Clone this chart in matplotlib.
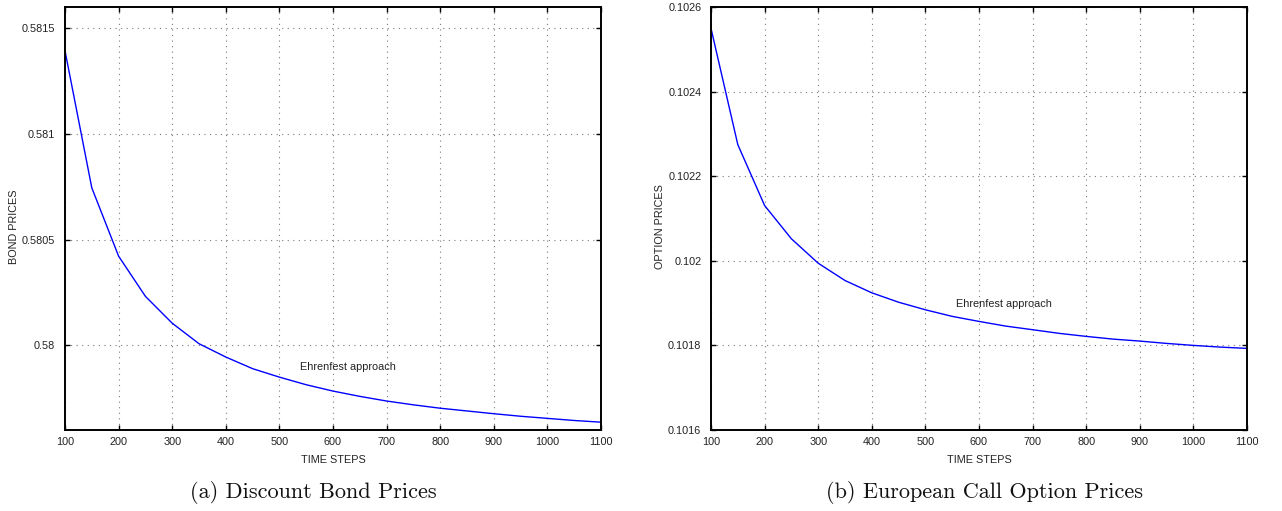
import matplotlib
matplotlib.use("Agg")
import matplotlib.pyplot as plt
from matplotlib.ticker import FuncFormatter

# ---- data ----
time_steps = [100, 150, 200, 250, 300, 350, 400, 450, 500, 550, 600,
              650, 700, 750, 800, 850, 900, 950, 1000, 1050, 1100]

bond_prices = [0.581393, 0.580745, 0.580422, 0.580232, 0.580105, 0.580008,
               0.579945, 0.579890, 0.579850, 0.579814, 0.579784, 0.579759,
               0.579737, 0.579719, 0.579703, 0.579690, 0.579677, 0.579665,
               0.579655, 0.579645, 0.579637]

option_prices = [0.1025496, 0.1022747, 0.1021307, 0.1020520, 0.1019943,
                 0.1019534, 0.1019243, 0.1019021, 0.1018842, 0.1018686,
                 0.1018567, 0.1018456, 0.1018371, 0.1018284, 0.1018213,
                 0.1018149, 0.1018102, 0.1018047, 0.1018000, 0.1017960,
                 0.1017929]

x_ticks = [100, 200, 300, 400, 500, 600, 700, 800, 900, 1000, 1100]
bond_yticks = [0.58, 0.5805, 0.581, 0.5815]
option_yticks = [0.1016, 0.1018, 0.102, 0.1022, 0.1024, 0.1026]

series_label = "Ehrenfest approach"
x_label = "TIME STEPS"
bond_ylabel = "BOND PRICES"
option_ylabel = "OPTION PRICES"
caption_a = "(a) Discount Bond Prices"
caption_b = "(b) European Call Option Prices"

# ---- figure ----
W, H = 1282, 511
fig = plt.figure(figsize=(W / 100, H / 100), dpi=100)
sans = ["Liberation Sans", "DejaVu Sans"]
fs = 7.8


def px_axes(x0, x1, ytop, ybot):
    return fig.add_axes([x0 / W, 1 - ybot / H, (x1 - x0) / W, (ybot - ytop) / H])


ax1 = px_axes(65, 601, 7, 430)
ax2 = px_axes(711, 1247, 7, 430)


def style(ax, yticks, ylim, ylabel):
    ax.set_xlim(100, 1100)
    ax.set_ylim(*ylim)
    ax.set_xticks(x_ticks)
    ax.set_yticks(yticks)
    ax.yaxis.set_major_formatter(FuncFormatter(lambda v, p: ("%.4f" % v).rstrip("0")))
    ax.grid(True, color="#7a7a7a", linestyle=(0, (1, 4)), linewidth=0.8)
    ax.tick_params(direction="in", length=3.5, width=1.0, top=True, right=True,
                   labelsize=fs, colors="black")
    ax.tick_params(axis="y", pad=7)
    ax.tick_params(axis="x", pad=5)
    for lab in ax.get_xticklabels() + ax.get_yticklabels():
        lab.set_family(sans)
        lab.set_color("#222222")
    for s in ax.spines.values():
        s.set_linewidth(1.4)
        s.set_color("black")
    ax.set_xlabel(x_label, family=sans, fontsize=fs, color="#222222", va="center")
    ax.xaxis.set_label_coords(0.5, -0.071)
    ax.set_ylabel(ylabel, family=sans, fontsize=fs, color="#222222", va="center")
    ax.yaxis.set_label_coords(-0.095, 0.48)


ax1.plot(time_steps, bond_prices, color="#0000ff", linewidth=1.0)
style(ax1, bond_yticks, (0.5796, 0.5816), bond_ylabel)
ax1.text(538, 0.579896, series_label, family=sans, fontsize=fs, color="#222222",
         ha="left", va="center")

ax2.plot(time_steps, option_prices, color="#0000ff", linewidth=1.0)
style(ax2, option_yticks, (0.1016, 0.1026), option_ylabel)
ax2.text(557, 0.1018969, series_label, family=sans, fontsize=fs, color="#222222",
         ha="left", va="center")

fig.text(313 / W, 1 - 492 / H, caption_a, family=["cmr10", "DejaVu Serif"],
         fontsize=16, ha="center", va="center", color="#111111")
fig.text(984 / W, 1 - 492 / H, caption_b, family=["cmr10", "DejaVu Serif"],
         fontsize=16, ha="center", va="center", color="#111111")

fig.savefig("out.png", dpi=100)
